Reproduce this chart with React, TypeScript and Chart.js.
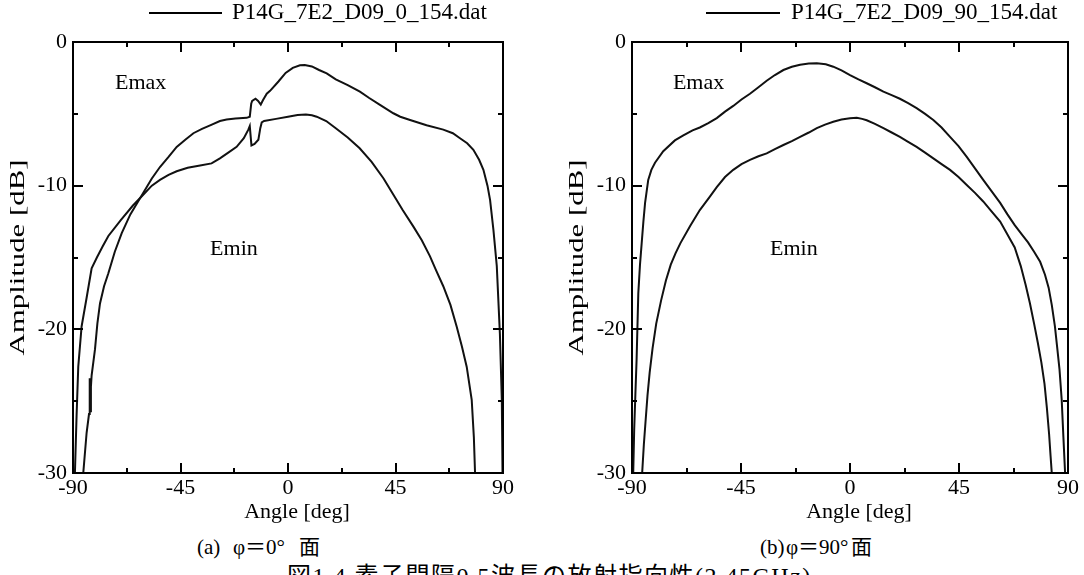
import React, { useEffect, useRef } from "react";
import { Chart, registerables } from "chart.js";

Chart.register(...registerables);

const SERIF = '"Liberation Serif", "Times New Roman", serif';
const CJK = '"Liberation Serif", "Noto Sans CJK JP", serif';

// Axis ticks
const xMajorTicks = [-90, -45, 0, 45, 90];
const xMinorTicks = [-67.5, -22.5, 22.5, 67.5];
const yMajorTicks = [0, -10, -20, -30];
const yMinorTicks = [-5, -15, -25];

// Legend labels
const legendA = "P14G_7E2_D09_0_154.dat";
const legendB = "P14G_7E2_D09_90_154.dat";

// (a) phi = 0 deg : Emax
const anglesA_Emax = [
  -85.7, -84.3, -83.3, -83.1, -82.9, -82.7, -82.5, -82.2, -81.5, -80.8, -79.8, -78.7, -77.0, -75.2,
  -72.5, -69.6, -66.0, -62.0, -57.0, -53.6, -50.0, -46.6, -43.0, -39.6, -36.0, -32.6, -28.5, -25.7,
  -22.0, -17.3, -16.0, -15.4, -15.0, -13.6, -12.5, -11.4, -10.5, -8.9, -7.5, -4.0, -1.0, 2.0, 5.0,
  7.0, 10.0, 13.0, 16.2, 20.0, 25.0, 30.1, 34.0, 38.5, 44.1, 47.0, 51.1, 58.0, 65.0, 69.0, 72.0,
  75.0, 77.6, 80.0, 81.8, 83.5, 84.6, 86.0, 87.4, 88.7, 89.5, 89.8,
];
const ampA_Emax = [
  -30, -27.2, -25.9, -24.6, -23.4, -25.7, -24.0, -23.2, -22.3, -21.4, -19.6, -18.2, -17.0, -16.1,
  -14.6, -13.3, -12.0, -10.9, -9.5, -8.7, -8.0, -7.3, -6.8, -6.35, -6.05, -5.8, -5.5, -5.4,
  -5.32, -5.28, -5.2, -4.3, -4.1, -3.95, -4.1, -4.35, -4.05, -3.6, -3.4, -2.75, -2.15, -1.8, -1.62,
  -1.6, -1.7, -1.95, -2.18, -2.6, -3.0, -3.46, -3.9, -4.38, -4.96, -5.2, -5.43, -5.8, -6.1, -6.35, -6.7,
  -7.05, -7.5, -8.2, -8.9, -10.0, -11.0, -13.1, -15.6, -20.3, -24.9, -30,
];

// (a) phi = 0 deg : Emin
const anglesA_Emin = [
  -89.2, -88.5, -87.8, -86.4, -84.3, -82.2, -80.0, -77.5, -75.2, -70.0, -65.0, -61.0, -57.0, -53.6,
  -50.0, -46.6, -42.0, -36.8, -32.0, -28.5, -25.0, -21.5, -18.5, -16.6, -16.0, -15.3, -14.0, -12.4,
  -11.6, -11.0, -10.0, -5.0, 0.0, 4.0, 7.5, 10.0, 12.0, 16.0, 20.0, 25.0, 30.0, 35.0, 40.0, 44.0,
  48.0, 52.5, 56.0, 59.4, 62.0, 65.0, 68.0, 70.6, 72.8, 74.8, 76.9, 77.8, 78.3,
];
const ampA_Emin = [
  -30, -26, -22.6, -19.8, -17.8, -15.75, -15.0, -14.2, -13.5, -12.4, -11.4, -10.7, -10.0, -9.6,
  -9.25, -9.0, -8.75, -8.6, -8.45, -8.1, -7.7, -7.3, -6.7, -6.1, -5.85, -7.2, -7.1, -6.8,
  -6.0, -5.6, -5.5, -5.35, -5.2, -5.08, -5.05, -5.1, -5.2, -5.5, -6.0, -6.65, -7.4, -8.35, -9.5, -10.6,
  -11.7, -12.85, -13.8, -14.9, -15.9, -17.0, -18.3, -19.8, -21.2, -22.6, -24.9, -27.5, -30,
];

// (b) phi = 90 deg : Emax
const anglesB_Emax = [
  -89.5, -89.1, -88.6, -88.1, -87.4, -86.7, -86.0, -85.3, -84.6, -83.3, -82.0, -80.5, -77.1, -72.3,
  -68.8, -65.0, -62.0, -58.5, -55.0, -51.6, -48.2, -44.8, -41.3, -37.8, -34.4, -31.0, -27.5, -24.0,
  -20.6, -17.0, -13.7, -10.0, -6.9, -3.5, 0.0, 3.5, 6.9, 10.3, 13.8, 17.2, 20.6, 24.0, 27.5, 31.0,
  34.4, 37.8, 41.3, 44.8, 48.2, 51.6, 55.0, 58.5, 62.0, 65.0, 68.0, 71.0, 73.5, 76.0, 78.5, 80.5,
  82.0, 83.3, 84.6, 85.5, 86.5, 87.4, 88.1, 88.8,
];
const ampB_Emax = [
  -30, -27, -24.5, -22.1, -17.5, -15.5, -14.0, -12.5, -11.2, -9.6, -8.9, -8.4, -7.6, -6.85,
  -6.5, -6.15, -5.95, -5.65, -5.3, -4.85, -4.45, -4.0, -3.6, -3.15, -2.7, -2.3, -1.95, -1.72,
  -1.58, -1.5, -1.48, -1.55, -1.72, -1.98, -2.3, -2.6, -2.87, -3.15, -3.46, -3.7, -3.95, -4.25, -4.6, -5.0,
  -5.43, -5.95, -6.6, -7.25, -8.0, -8.8, -9.6, -10.4, -11.2, -12.0, -12.75, -13.4, -13.95, -14.6, -15.3, -16.2,
  -17.1, -18.3, -19.8, -21.2, -22.8, -24.9, -27.5, -30,
];

// (b) phi = 90 deg : Emin
const anglesB_Emin = [
  -85.8, -85.1, -84.4, -83.6, -82.7, -81.5, -80.0, -78.0, -76.0, -74.0, -72.0, -70.0, -66.0, -62.0,
  -58.0, -55.0, -51.6, -48.2, -44.8, -41.3, -37.8, -34.4, -31.0, -27.5, -24.0, -20.6, -17.0, -13.7,
  -10.3, -6.9, -3.5, 0.0, 2.8, 5.0, 6.9, 10.3, 13.8, 17.2, 20.6, 24.0, 27.5, 31.0, 34.4, 37.8,
  41.3, 44.8, 48.2, 51.6, 55.0, 58.0, 62.0, 65.0, 68.0, 70.5, 72.5, 74.3, 76.0, 77.5, 79.0, 80.3,
  81.3, 82.2, 82.8, 83.3,
];
const ampB_Emin = [
  -30, -28, -26.4, -24.6, -23.0, -21.3, -19.6, -18.0, -16.6, -15.5, -14.7, -14.0, -12.8, -11.7,
  -10.8, -10.1, -9.4, -8.9, -8.5, -8.2, -7.95, -7.75, -7.45, -7.17, -6.9, -6.6, -6.3, -6.0,
  -5.75, -5.55, -5.4, -5.3, -5.28, -5.35, -5.45, -5.7, -6.0, -6.3, -6.6, -6.95, -7.3, -7.7, -8.1, -8.5,
  -8.9, -9.4, -9.95, -10.5, -11.1, -11.7, -12.5, -13.4, -14.3, -15.6, -16.9, -18.2, -19.6, -20.9, -22.3, -23.8,
  -25.5, -27.3, -28.8, -30,
];

// Curve annotations: [label, angle, dB]
const notesA = [
  ["Emax", -72.4, -3.3],
  ["Emin", -32.6, -14.8],
];
const notesB = [
  ["Emax", -73.1, -3.3],
  ["Emin", -33.0, -14.8],
];

type PanelCfg = {
  left: number;
  width: number;
  height: number;
  yWidth: number;
  padRight: number;
  legend: string;
  legendLine: [number, number];
  legendTextX: number;
  emax: [number[], number[]];
  emin: [number[], number[]];
  notes: (string | number)[][];
};

const toPoints = (xs: number[], ys: number[]) => xs.map((x, i) => ({ x, y: ys[i] }));

function makeFramePlugin(cfg: PanelCfg) {
  return {
    id: "frameAndText",
    afterDraw(chart: any) {
      const ctx = chart.ctx as CanvasRenderingContext2D;
      const a = chart.chartArea;
      const xs = chart.scales.x;
      const ys = chart.scales.y;
      ctx.save();
      ctx.strokeStyle = "#000";
      ctx.fillStyle = "#000";
      // frame
      ctx.lineWidth = 2;
      ctx.strokeRect(a.left, a.top, a.right - a.left, a.bottom - a.top);
      // ticks (inside)
      const tickX = (v: number, len: number) => {
        const px = Math.round(xs.getPixelForValue(v));
        ctx.beginPath();
        ctx.moveTo(px, a.bottom);
        ctx.lineTo(px, a.bottom - len);
        ctx.moveTo(px, a.top);
        ctx.lineTo(px, a.top + len);
        ctx.stroke();
      };
      const tickY = (v: number, len: number) => {
        const py = Math.round(ys.getPixelForValue(v));
        ctx.beginPath();
        ctx.moveTo(a.left, py);
        ctx.lineTo(a.left + len, py);
        ctx.moveTo(a.right, py);
        ctx.lineTo(a.right - len, py);
        ctx.stroke();
      };
      xMajorTicks.forEach((v) => tickX(v, 10));
      xMinorTicks.forEach((v) => tickX(v, 5));
      yMajorTicks.forEach((v) => tickY(v, 10));
      yMinorTicks.forEach((v) => tickY(v, 5));

      // legend
      ctx.lineWidth = 2;
      ctx.beginPath();
      ctx.moveTo(cfg.legendLine[0], 13);
      ctx.lineTo(cfg.legendLine[1], 13);
      ctx.stroke();
      ctx.font = `23px ${SERIF}`;
      ctx.textAlign = "left";
      ctx.textBaseline = "middle";
      ctx.fillText(cfg.legend, cfg.legendTextX, 13);

      // annotations
      ctx.font = `22px ${SERIF}`;
      ctx.textBaseline = "alphabetic";
      cfg.notes.forEach((n) => {
        ctx.fillText(
          String(n[0]),
          xs.getPixelForValue(n[1] as number),
          ys.getPixelForValue(n[2] as number)
        );
      });

      // x title
      ctx.textAlign = "center";
      ctx.textBaseline = "middle";
      ctx.fillText("Angle [deg]", (a.left + a.right) / 2 + 9, 512);

      // y title (rotated, stretched along its length)
      ctx.save();
      ctx.translate(a.left - 55, (a.top + a.bottom) / 2);
      ctx.rotate(-Math.PI / 2);
      ctx.scale(1.4, 1);
      ctx.fillText("Amplitude [dB]", 0, 0);
      ctx.restore();

      ctx.restore();
    },
  };
}

function Panel({ cfg }: { cfg: PanelCfg }) {
  const ref = useRef<HTMLCanvasElement | null>(null);
  useEffect(() => {
    if (!ref.current) return;
    const lineStyle = {
      showLine: true,
      borderColor: "#111",
      backgroundColor: "#111",
      borderWidth: 2,
      pointRadius: 0,
      tension: 0,
      fill: false,
    };
    const chart = new Chart(ref.current, {
      type: "scatter",
      data: {
        datasets: [
          { label: "Emax", data: toPoints(cfg.emax[0], cfg.emax[1]), ...lineStyle },
          { label: "Emin", data: toPoints(cfg.emin[0], cfg.emin[1]), ...lineStyle },
        ],
      },
      options: {
        animation: false,
        responsive: false,
        maintainAspectRatio: false,
        devicePixelRatio: 1,
        layout: { padding: { top: 42, right: cfg.padRight, left: 0, bottom: 0 } },
        plugins: { legend: { display: false }, tooltip: { enabled: false } },
        scales: {
          x: {
            type: "linear",
            min: -90,
            max: 90,
            grid: { display: false, drawTicks: false },
            border: { display: false },
            ticks: {
              stepSize: 45,
              autoSkip: false,
              maxRotation: 0,
              padding: 2,
              color: "#000",
              font: { family: SERIF, size: 22 },
            },
            afterFit: (s: any) => {
              s.height = 57;
            },
          },
          y: {
            type: "linear",
            min: -30,
            max: 0,
            grid: { display: false, drawTicks: false },
            border: { display: false },
            ticks: {
              stepSize: 10,
              autoSkip: false,
              padding: 6,
              color: "#000",
              font: { family: SERIF, size: 22 },
            },
            afterFit: (s: any) => {
              s.width = cfg.yWidth;
            },
          },
        },
      } as any,
      plugins: [makeFramePlugin(cfg)],
    });
    return () => chart.destroy();
  }, [cfg]);
  return (
    <canvas
      ref={ref}
      width={cfg.width}
      height={cfg.height}
      style={{ position: "absolute", left: cfg.left, top: 0, width: cfg.width, height: cfg.height }}
    />
  );
}

const panelA: PanelCfg = {
  left: 0,
  width: 540,
  height: 530,
  yWidth: 73,
  padRight: 37,
  legend: legendA,
  legendLine: [149, 222],
  legendTextX: 232,
  emax: [anglesA_Emax, ampA_Emax],
  emin: [anglesA_Emin, ampA_Emin],
  notes: notesA,
};

const panelB: PanelCfg = {
  left: 540,
  width: 544,
  height: 530,
  yWidth: 92,
  padRight: 16,
  legend: legendB,
  legendLine: [166, 240],
  legendTextX: 251,
  emax: [anglesB_Emax, ampB_Emax],
  emin: [anglesB_Emin, ampB_Emin],
  notes: notesB,
};

const span = (
  left: number,
  top: number,
  size: number,
  text: string,
  spacing = 0,
  family = CJK
) => (
  <span
    style={{
      position: "absolute",
      left,
      top,
      fontSize: size,
      fontFamily: family,
      lineHeight: 1,
      letterSpacing: spacing,
      whiteSpace: "nowrap",
      color: "#000",
    }}
  >
    {text}
  </span>
);

export default function App() {
  return (
    <div
      style={{
        position: "fixed",
        left: 0,
        top: 0,
        width: 1084,
        height: 575,
        overflow: "hidden",
        background: "#fff",
      }}
    >
      <Panel cfg={panelA} />
      <Panel cfg={panelB} />
      {span(197, 537, 21, "(a)")}
      {span(233, 537, 21, "φ＝0°")}
      {span(299, 537, 21, "面")}
      {span(760, 537, 21, "(b)")}
      {span(786, 537, 21, "φ＝90°")}
      {span(851, 537, 21, "面")}
      {span(287, 564, 24, "図1.4 素子間隔0.5波長の放射指向性(2.45GHz)", 1.5)}
    </div>
  );
}
